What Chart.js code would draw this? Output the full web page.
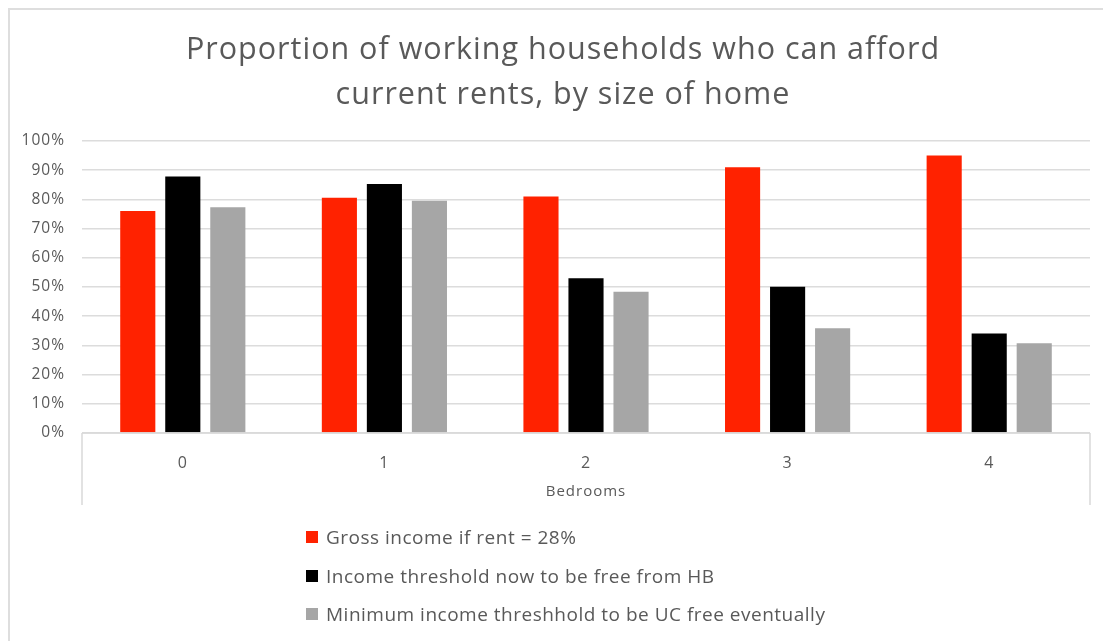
<!DOCTYPE html>
<html>
<head>
<meta charset="utf-8">
<script src="https://cdn.jsdelivr.net/npm/chart.js@4.4.1/dist/chart.umd.min.js"></script>
<style>
  html, body { margin: 0; padding: 0; background: #fff; }
  #wrap { position: relative; width: 1103px; height: 641px; overflow: hidden; background: #fff; }
  #frame { position: absolute; left: 8px; top: 8px; right: -10px; bottom: -10px; border-top: 2px solid #dedede; border-left: 2px solid #dedede; pointer-events: none; }
  #c { position: absolute; left: 0; top: 0; }
  #title { position: absolute; left: 0; top: 25px; width: 1126px; text-align: center; font-family: "Open Sans", Lato, sans-serif; font-size: 30.5px; letter-spacing: 1px; line-height: 45px; color: #595959; white-space: nowrap; }
  #legend { position: absolute; left: 306px; top: 525px; font-family: "Open Sans", Lato, sans-serif; font-size: 19px; letter-spacing: 0.5px; color: #595959; }
  #legend .item { display: flex; align-items: center; height: 24px; margin-bottom: 14.5px; white-space: nowrap; }
  #legend .sw { width: 12px; height: 12px; margin-right: 8px; flex: none; }
</style>
</head>
<body>
<div id="wrap">
  <div id="frame"></div>
  <canvas id="c" width="1103" height="641"></canvas>
  <div id="title"></div>
  <div id="legend"></div>
</div>
<script>
const titleLines = ['Proportion of working households who can afford', 'current rents, by size of home'];
const categories = ['0', '1', '2', '3', '4'];
const xAxisTitle = 'Bedrooms';
const seriesNames = ['Gross income if rent = 28%', 'Income threshold now to be free from HB', 'Minimum income threshhold to be UC free eventually'];
const grossIncome = [76.0, 80.6, 81.0, 91.0, 95.0];
const incomeThreshold = [87.8, 85.3, 53.0, 50.1, 34.1];
const minIncomeUC = [77.3, 79.5, 48.4, 35.9, 30.7];
const yTickValues = [0, 10, 20, 30, 40, 50, 60, 70, 80, 90, 100];
const seriesColors = ['#ff2200', '#000000', '#a6a6a6'];

const spacingPlugin = {
  id: 'spacing',
  beforeLayout(chart) { chart.ctx.letterSpacing = '1px'; },
  beforeDraw(chart) { chart.ctx.letterSpacing = '1px'; }
};

const axisBoxPlugin = {
  id: 'axisBox',
  afterDatasetsDraw(chart) {
    const { ctx, chartArea } = chart;
    const xs = chart.scales.x;
    ctx.save();
    ctx.strokeStyle = '#d9d9d9';
    ctx.lineWidth = 1.5;
    ctx.beginPath();
    ctx.moveTo(chartArea.left, chartArea.bottom);
    ctx.lineTo(chartArea.right, chartArea.bottom);
    ctx.moveTo(chartArea.left, chartArea.bottom);
    ctx.lineTo(chartArea.left, xs.bottom);
    ctx.moveTo(chartArea.right, chartArea.bottom);
    ctx.lineTo(chartArea.right, xs.bottom);
    ctx.stroke();
    ctx.restore();
  }
};

const titleEl = document.getElementById('title');
titleLines.forEach(line => {
  const d = document.createElement('div');
  d.textContent = line;
  titleEl.appendChild(d);
});

const chart = new Chart(document.getElementById('c'), {
  type: 'bar',
  data: {
    labels: categories,
    datasets: [
      { label: seriesNames[0], data: grossIncome, backgroundColor: seriesColors[0] },
      { label: seriesNames[1], data: incomeThreshold, backgroundColor: seriesColors[1] },
      { label: seriesNames[2], data: minIncomeUC, backgroundColor: seriesColors[2] }
    ]
  },
  options: {
    responsive: false,
    animation: false,
    layout: { padding: { left: 0, right: 13, top: 141, bottom: 136 } },
    categoryPercentage: 0.67,
    barPercentage: 0.78,
    plugins: {
      legend: { display: false },
      tooltip: { enabled: false },
      title: { display: false }
    },
    scales: {
      x: {
        grid: { display: false, drawTicks: false },
        border: { display: false },
        ticks: { color: '#595959', font: { family: 'Open Sans', size: 16 }, padding: 21 },
        title: { display: true, text: xAxisTitle, color: '#595959', font: { family: 'Open Sans', size: 15, lineHeight: 1.2 }, padding: { top: 0, bottom: 4 } },
        afterFit(scale) { scale.height = 72; }
      },
      y: {
        min: 0, max: 100,
        afterBuildTicks(scale) { scale.ticks = yTickValues.map(v => ({ value: v })); },
        grid: { color: '#dcdcdc', lineWidth: 1.5, drawTicks: false },
        border: { display: false },
        ticks: { color: '#595959', font: { family: 'Open Sans', size: 15.5 }, padding: 17, callback: v => v + '%' },
        afterFit(scale) { scale.width = 82; }
      }
    }
  },
  plugins: [spacingPlugin, axisBoxPlugin]
});

const legendEl = document.getElementById('legend');
Chart.defaults.plugins.legend.labels.generateLabels(chart).forEach(item => {
  const row = document.createElement('div');
  row.className = 'item';
  const sw = document.createElement('span');
  sw.className = 'sw';
  sw.style.background = item.fillStyle;
  const tx = document.createElement('span');
  tx.textContent = item.text;
  row.appendChild(sw);
  row.appendChild(tx);
  legendEl.appendChild(row);
});
</script>
</body>
</html>
